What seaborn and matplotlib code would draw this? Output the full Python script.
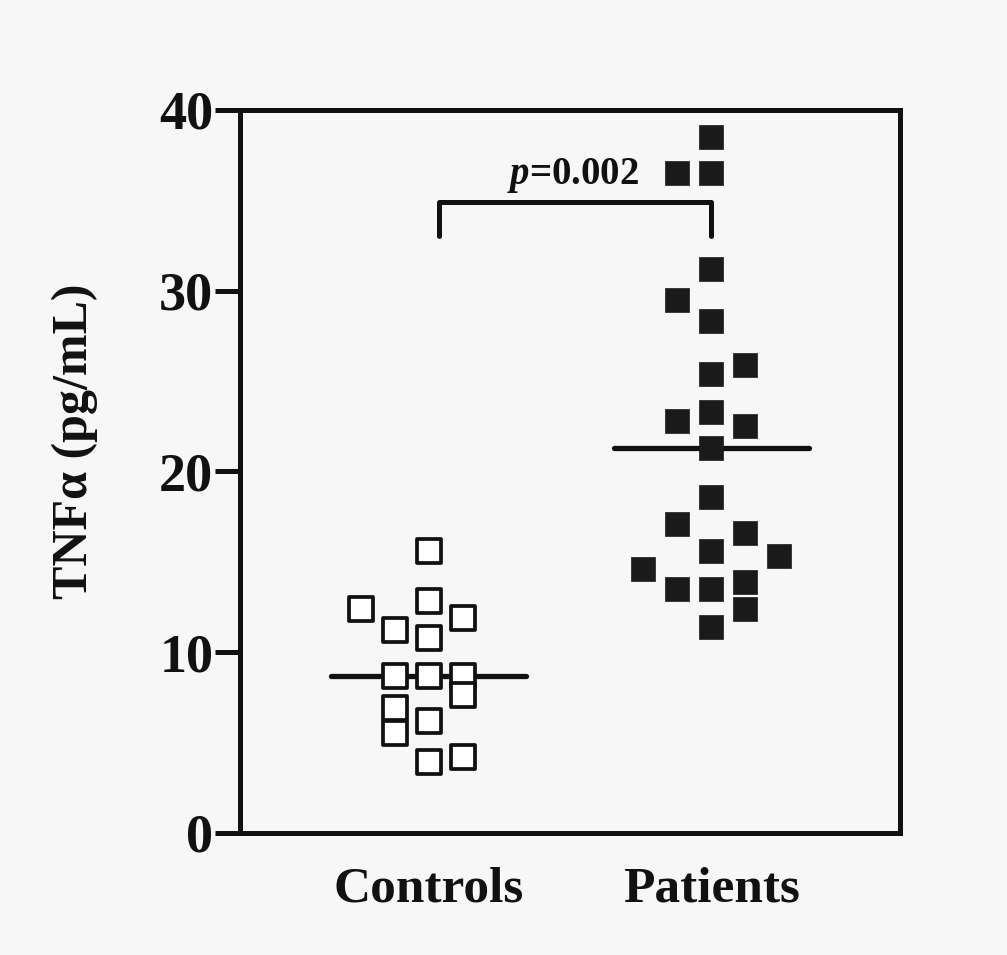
import numpy as np
import pandas as pd
import matplotlib
matplotlib.use("Agg")
import matplotlib.pyplot as plt
import seaborn as sns

# ---- data ----
groups = ["Controls", "Patients"]
controls_vals = [15.6, 12.4, 12.8, 11.9, 11.2, 10.8, 8.7, 8.7, 8.7, 7.6, 6.9, 5.5, 6.2, 3.9, 4.2]
controls_slot = [0, -2, 0, 1, -1, 0, -1, 0, 1, 1, -1, -1, 0, 0, 1]
patients_vals = [38.5, 36.5, 36.5, 31.2, 29.5, 28.3, 25.9, 25.4, 23.3, 22.8, 22.5, 21.3,
                 18.6, 17.1, 16.6, 15.6, 15.3, 14.6, 13.5, 13.5, 13.9, 12.4, 11.4]
patients_slot = [0, -1, 0, 0, -1, 0, 1, 0, 0, -1, 1, 0,
                 0, -1, 1, 0, 2, -2, -1, 0, 1, 1, 0]
yticks = [0, 10, 20, 30, 40]
p_label = "p"
p_value = "=0.002"

sns.set_theme(style="white")
plt.rcParams["font.family"] = ["Liberation Serif", "DejaVu Serif"]
plt.rcParams["mathtext.fontset"] = "custom"
plt.rcParams["mathtext.it"] = "Liberation Serif:italic:bold"
plt.rcParams["mathtext.rm"] = "Liberation Serif:bold"

slot_w = 0.12
df = pd.DataFrame({
    "group": ["Controls"] * len(controls_vals) + ["Patients"] * len(patients_vals),
    "value": controls_vals + patients_vals,
    "slot": controls_slot + patients_slot,
})
df["gi"] = df["group"].map({g: i for i, g in enumerate(groups)})
df["x"] = df["gi"] + df["slot"] * slot_w

fig = plt.figure(figsize=(10.07, 9.55), dpi=100)
bg = "#f7f7f7"
fig.patch.set_facecolor(bg)
ax = fig.add_axes([0.238, 0.128, 0.656, 0.757])
ax.set_facecolor(bg)

sns.scatterplot(data=df[df.group == "Controls"], x="x", y="value", marker="s", s=285,
                facecolor="white", edgecolor="#111111", linewidth=2.7, ax=ax, legend=False, zorder=3)
sns.scatterplot(data=df[df.group == "Patients"], x="x", y="value", marker="s", s=290,
                color="#1a1a1a", edgecolor="#1a1a1a", linewidth=0.5, ax=ax, legend=False, zorder=3)

# median lines
for i, vals in enumerate([controls_vals, patients_vals]):
    m = np.median(vals)
    ax.plot([i - 0.345, i + 0.345], [m, m], color="#111111", lw=3.8,
            solid_capstyle="round", zorder=2)

# significance bracket
ax.plot([0.035, 0.035, 1.0, 1.0], [33.0, 34.9, 34.9, 33.0], color="#111111", lw=3.6,
        solid_capstyle="round", solid_joinstyle="round", zorder=2, clip_on=False)
ax.text(0.51, 35.3, "$" + p_label + "$" + p_value, ha="center", va="bottom",
        fontsize=28, fontweight="bold", color="#111111")

ax.set_xlim(-0.67, 1.67)
ax.set_ylim(0, 40)
ax.set_yticks(yticks)
ax.set_yticklabels([str(t) for t in yticks], fontsize=39, fontweight="bold", color="#111111")
ax.set_xticks([0, 1])
ax.set_xticklabels(groups, fontsize=37, fontweight="bold", color="#111111")
ax.set_xlabel("")
ax.set_ylabel("TNF\u03b1 (pg/mL)", fontsize=36, fontweight="bold", color="#111111")
ax.yaxis.set_label_coords(-0.215, 0.541)

for sp in ax.spines.values():
    sp.set_visible(True)
    sp.set_linewidth(3.6)
    sp.set_color("#111111")
ax.tick_params(axis="y", direction="out", length=18, width=3.6, color="#111111", pad=1, left=True)
ax.tick_params(axis="x", length=0, pad=24)

fig.savefig("out.png", dpi=100, facecolor=bg)
